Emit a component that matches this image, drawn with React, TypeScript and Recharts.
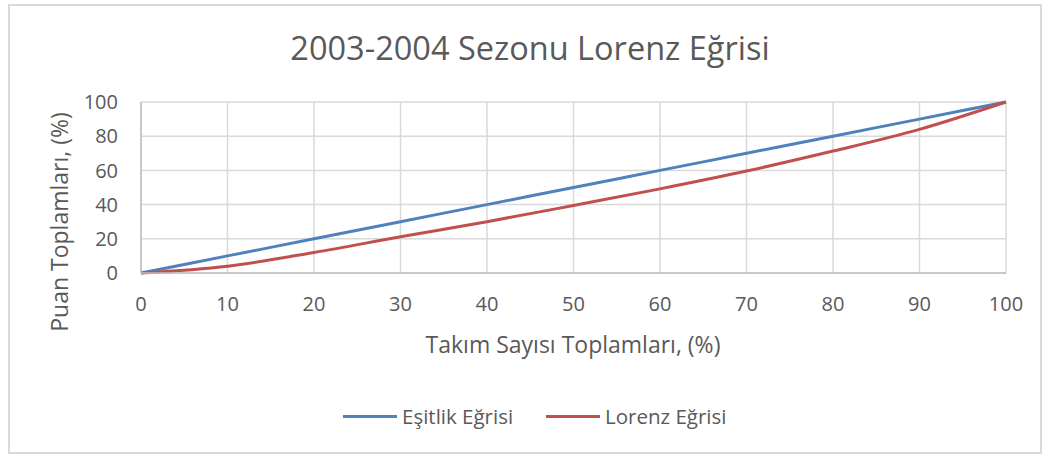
import React from "react";
import { LineChart, Line, XAxis, YAxis, CartesianGrid } from "recharts";

const xValues = [0, 10, 20, 30, 40, 50, 60, 70, 80, 90, 100];
const equality = [0, 10, 20, 30, 40, 50, 60, 70, 80, 90, 100];
const lorenz = [0, 4, 12, 21.2, 30, 39.5, 49.2, 59.6, 71.3, 84, 100];
const xTicks = [0, 10, 20, 30, 40, 50, 60, 70, 80, 90, 100];
const yTicks = [0, 20, 40, 60, 80, 100];
const seriesNames = ["Eşitlik Eğrisi", "Lorenz Eğrisi"];
const seriesColors = ["#4F81BD", "#C0504D"];

const data = xValues.map((x, i) => ({ x, esitlik: equality[i], lorenz: lorenz[i] }));

const FONT = "'Open Sans', sans-serif";
const TXT = "#595959";
const legendLeft = [343, 546];

export default function App() {
  return (
    <div style={{ position: "absolute", left: 0, top: 0, width: 1048, height: 454, background: "#fff", overflow: "hidden" }}>
      <div style={{ position: "absolute", left: 8, top: 4, width: 1030, height: 446, border: "2px solid #d9d9d9" }} />
      <div style={{ position: "absolute", left: 530, top: 47, transform: "translate(-50%, -50%)", whiteSpace: "nowrap", fontFamily: FONT, fontSize: 32.5, color: TXT }}>
        2003-2004 Sezonu Lorenz Eğrisi
      </div>
      <div style={{ position: "absolute", left: 573, top: 344, transform: "translate(-50%, -50%)", whiteSpace: "nowrap", fontFamily: FONT, fontSize: 23, color: TXT }}>
        Takım Sayısı Toplamları, (%)
      </div>
      <div style={{ position: "absolute", left: 59, top: 222, transform: "translate(-50%, -50%) rotate(-90deg)", whiteSpace: "nowrap", fontFamily: FONT, fontSize: 23, color: TXT }}>
        Puan Toplamları, (%)
      </div>
      {seriesNames.map((name, i) => (
        <div key={name} style={{ position: "absolute", left: legendLeft[i], top: 416, transform: "translateY(-50%)", display: "flex", alignItems: "center", fontFamily: FONT, fontSize: 20.5, color: TXT, whiteSpace: "nowrap" }}>
          <div style={{ width: 54, height: 3, background: seriesColors[i], marginRight: 5 }} />
          <span>{name}</span>
        </div>
      ))}
      <div style={{ position: "absolute", left: 0, top: 0 }}>
        <LineChart width={1048} height={454} data={data} margin={{ top: 102, right: 42, bottom: 141, left: 81 }}>
          <CartesianGrid stroke="#d9d9d9" strokeWidth={1.5} />
          <XAxis
            dataKey="x"
            type="number"
            domain={[0, 100]}
            ticks={xTicks}
            tickLine={false}
            tickSize={0}
            tickMargin={24}
            axisLine={{ stroke: "#bfbfbf", strokeWidth: 1.5 }}
            tick={{ fill: TXT, fontSize: 20, fontFamily: FONT }}
            interval={0}
            height={40}
          />
          <YAxis
            type="number"
            domain={[0, 100]}
            ticks={yTicks}
            tickLine={false}
            tickSize={0}
            tickMargin={23}
            axisLine={{ stroke: "#bfbfbf", strokeWidth: 1.5 }}
            tick={{ fill: TXT, fontSize: 20, fontFamily: FONT }}
            interval={0}
            width={60}
          />
          <Line type="monotone" dataKey="esitlik" name={seriesNames[0]} stroke={seriesColors[0]} strokeWidth={3} dot={false} isAnimationActive={false} />
          <Line type="monotone" dataKey="lorenz" name={seriesNames[1]} stroke={seriesColors[1]} strokeWidth={3} dot={false} isAnimationActive={false} />
        </LineChart>
      </div>
    </div>
  );
}
